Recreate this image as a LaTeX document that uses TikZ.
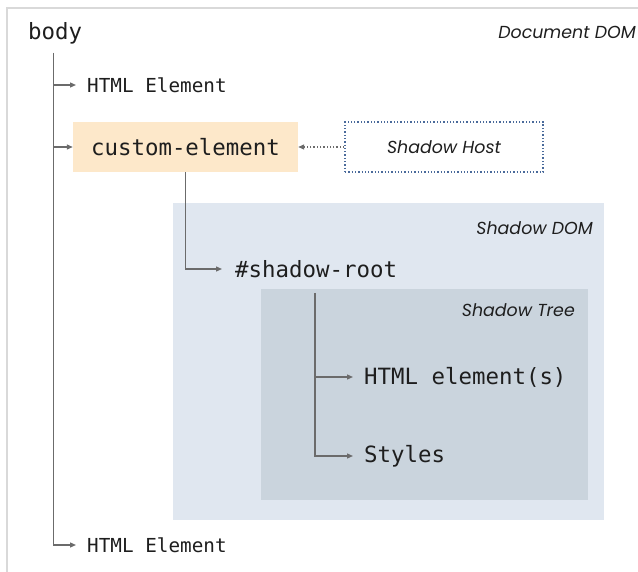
\documentclass[tikz,border=0pt]{standalone}
\usepackage{fontspec}
\setmonofont{DejaVu Sans Mono}
\newfontfamily\labelfont{Poppins}
\usetikzlibrary{arrows.meta}
\definecolor{framegray}{HTML}{D9D9D9}
\definecolor{linegray}{HTML}{6B6B6B}
\definecolor{peach}{HTML}{FDE8CA}
\definecolor{domblue}{HTML}{E0E7F0}
\definecolor{treeblue}{HTML}{CAD4DD}
\definecolor{hostblue}{HTML}{4A6A9B}
\definecolor{ink}{HTML}{1E1E1E}
\tikzset{
  monobig/.style={font=\fontsize{22.4}{26}\selectfont\ttfamily, text=ink, inner ysep=0pt},
  monosmall/.style={font=\fontsize{19.3}{22}\selectfont\ttfamily, text=ink, inner ysep=0pt},
  italiclabel/.style={font=\fontsize{17.4}{20}\selectfont\labelfont\itshape, text=ink, inner sep=0pt},
  conn/.style={draw=linegray, line width=1.3pt, -{Triangle[length=6pt,width=5pt]}},
  plainline/.style={draw=linegray, line width=1.3pt},
}
\begin{document}
\begin{tikzpicture}[x=1pt,y=-1pt]
\useasboundingbox (0,0) rectangle (638,572);
% outer frame (only top and left visible)
\draw[framegray, line width=1.6pt] (7,572) -- (7,8) -- (638,8);

% shadow DOM regions
\node[fill=domblue, inner sep=0pt, minimum width=431pt, minimum height=317pt, anchor=north west] (sdom) at (173,203) {};
\node[fill=treeblue, inner sep=0pt, minimum width=327pt, minimum height=211pt, anchor=north west] (stree) at (261,289) {};
\node[italiclabel, anchor=east] (doclabel) at (636,32) {Document DOM};
\node[italiclabel, anchor=east] (sdomlabel) at (593,228) {Shadow DOM};
\node[italiclabel, anchor=east] (streelabel) at (575,310) {Shadow Tree};

% body and trunk
\node[monobig, anchor=west, inner xsep=0pt] (body) at (28,33) {body};
\coordinate (trunktop) at (53.5,53);
\node[monosmall, anchor=west, inner xsep=11pt] (he1) at (76,85) {HTML Element};
\node[fill=peach, monobig, minimum width=225pt, minimum height=50pt] (ce) at (185.5,147) {custom-element};
\node[monosmall, anchor=west, inner xsep=11pt] (he2) at (76,545) {HTML Element};

\draw[plainline] (trunktop) -- (trunktop |- he2.west);
\draw[conn] (trunktop |- he1.west) -- (he1.west);
\draw[conn] (trunktop |- ce.west) -- (ce.west);
\draw[conn] (trunktop) |- (he2.west);

% shadow host
\node[draw=hostblue, dotted, line width=1.3pt, minimum width=198pt, minimum height=50pt, italiclabel] (host) at (444,147) {Shadow Host};
\draw[draw=linegray, dotted, line width=1.3pt, -{Triangle[length=6pt,width=5pt]}] (host.west) -- (ce.east);

% shadow root
\node[monobig, anchor=west, inner xsep=13pt] (sroot) at (222,269) {\#shadow-root};
\draw[conn] (ce.south) |- (sroot.west);

% shadow tree children
\coordinate (treetop) at (315,293);
\node[monobig, anchor=west, inner xsep=11pt] (he3) at (353,377) {HTML element(s)};
\node[monobig, anchor=west, inner xsep=11pt] (styles) at (353,456) {Styles};
\draw[conn] (treetop |- he3.west) -- (he3.west);
\draw[conn] (treetop) |- (styles.west);
\end{tikzpicture}
\end{document}
